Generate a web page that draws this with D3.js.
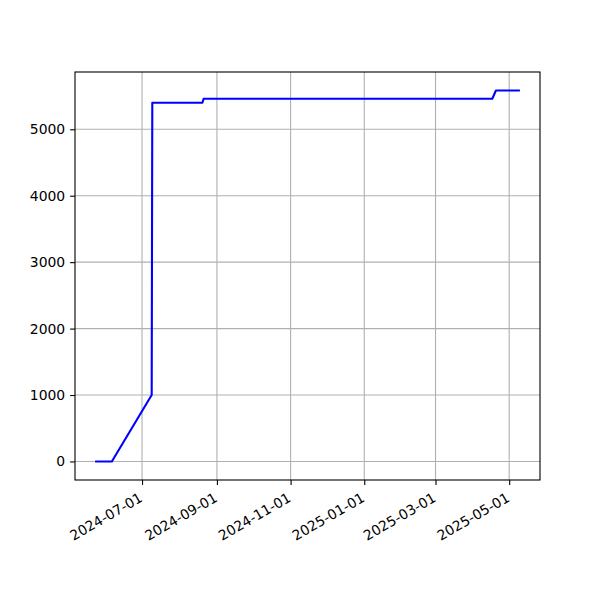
<!DOCTYPE html>
<html><head><meta charset="utf-8">
<script src="https://cdn.jsdelivr.net/npm/d3@7"></script>
<style>body{margin:0;background:#fff}</style>
</head><body>
<svg id="c" width="600" height="600"></svg>
<script>
const dates = ["2024-05-24","2024-06-06","2024-07-09T00:00","2024-07-09T12:00","2024-08-20","2024-08-21","2025-04-17","2025-04-20","2025-05-09"];
const values = [0,0,1000,5400,5400,5460,5460,5583,5583];
const xTickLabels = ["2024-07-01","2024-09-01","2024-11-01","2025-01-01","2025-03-01","2025-05-01"];
const yTickValues = [0,1000,2000,3000,4000,5000];

const parse = s => new Date(s.length > 10 ? s : s + "T00:00");
const data = dates.map((d,i)=>({t:parse(d), v:values[i]}));
const L=75,R=540,T=72,B=480;
const svg = d3.select("#c");
const tExt = d3.extent(data,d=>d.t);
const span = tExt[1]-tExt[0];
const x = d3.scaleTime().domain([new Date(+tExt[0]-span*0.05), new Date(+tExt[1]+span*0.05)]).range([L,R]);
const vMax = d3.max(values), vMin = d3.min(values), vs = vMax-vMin;
const y = d3.scaleLinear().domain([vMin-vs*0.05, vMax+vs*0.05]).range([B,T]);

const xTicks = xTickLabels.map(parse);
const font = "DejaVu Sans, sans-serif";

// grid
const g = svg.append("g");
g.selectAll(".gx").data(xTicks).enter().append("line")
 .attr("x1",d=>x(d)).attr("x2",d=>x(d)).attr("y1",T).attr("y2",B)
 .attr("stroke","#b0b0b0").attr("stroke-width",1.1);
g.selectAll(".gy").data(yTickValues).enter().append("line")
 .attr("x1",L).attr("x2",R).attr("y1",d=>y(d)).attr("y2",d=>y(d))
 .attr("stroke","#b0b0b0").attr("stroke-width",1.1);

// line
svg.append("path").datum(data)
 .attr("d", d3.line().x(d=>x(d.t)).y(d=>y(d.v)))
 .attr("fill","none").attr("stroke","#0000ff").attr("stroke-width",2.1)
 .attr("stroke-linejoin","round").attr("stroke-linecap","square");

// axes
const xa = svg.append("g").attr("transform",`translate(0,${B})`)
 .call(d3.axisBottom(x).tickValues(xTicks).tickFormat(d3.timeFormat("%Y-%m-%d")).tickSize(4.9).tickPadding(3));
xa.select(".domain").remove();
xa.selectAll("line").attr("stroke","#000").attr("stroke-width",1.1);
xa.selectAll("text").attr("font-family",font).attr("font-size","13.9px").attr("fill","#000")
 .attr("text-anchor","end").attr("x",0).attr("y",0).attr("dy","0.71em")
 .attr("transform","translate(-4,12) rotate(-30)");

const ya = svg.append("g").attr("transform",`translate(${L},0)`)
 .call(d3.axisLeft(y).tickValues(yTickValues).tickFormat(d3.format("d")).tickSize(4.9).tickPadding(4.9));
ya.select(".domain").remove();
ya.selectAll("line").attr("stroke","#000").attr("stroke-width",1.1);
ya.selectAll("text").attr("font-family",font).attr("font-size","13.9px").attr("fill","#000");

svg.append("rect").attr("x",L).attr("y",T).attr("width",R-L).attr("height",B-T)
 .attr("fill","none").attr("stroke","#000").attr("stroke-width",1.1);
</script>
</body></html>
